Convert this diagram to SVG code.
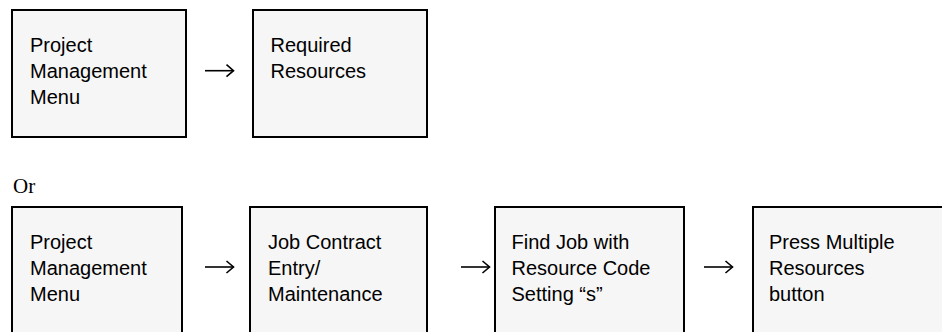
<svg xmlns="http://www.w3.org/2000/svg" width="942" height="332" viewBox="0 0 942 332">
<style>
.box{fill:#f6f6f6;stroke:#000;stroke-width:2}
.t{font-family:"Liberation Sans",Arial,sans-serif;font-size:20px;fill:#000}
.or{font-family:"Liberation Serif","Times New Roman",serif;font-size:21px;fill:#000}
.c{fill:none;stroke:#000;stroke-width:1.6}
</style>
<defs>
<marker id="ah" markerUnits="userSpaceOnUse" markerWidth="12" markerHeight="14" refX="9" refY="7" orient="auto">
<path d="M2,1 L9,7 L2,13" fill="none" stroke="#000" stroke-width="1.6"/>
</marker>
</defs>
<rect width="942" height="332" fill="#fff"/>
<g id="n1">
<rect class="box" x="12" y="10" width="174" height="127"/>
<text class="t" x="30" y="52">Project</text>
<text class="t" x="30" y="77.8">Management</text>
<text class="t" x="30" y="103.6">Menu</text>
</g>
<g id="n2">
<rect class="box" x="253" y="10" width="174" height="127"/>
<text class="t" x="270.5" y="52">Required</text>
<text class="t" x="270.5" y="77.8">Resources</text>
</g>
<text class="or" x="13" y="193">Or</text>
<g id="n3">
<rect class="box" x="12" y="207" width="170" height="130"/>
<text class="t" x="30" y="249">Project</text>
<text class="t" x="30" y="274.8">Management</text>
<text class="t" x="30" y="300.6">Menu</text>
</g>
<g id="n4">
<rect class="box" x="250" y="207" width="177" height="130"/>
<text class="t" x="268" y="249">Job Contract</text>
<text class="t" x="268" y="274.8">Entry/</text>
<text class="t" x="268" y="300.6">Maintenance</text>
</g>
<g id="n5">
<rect class="box" x="495" y="207" width="189" height="130"/>
<text class="t" x="511.5" y="249">Find Job with</text>
<text class="t" x="511.5" y="274.8">Resource Code</text>
<text class="t" x="511.5" y="300.6">Setting “s”</text>
</g>
<g id="n6">
<rect class="box" x="753" y="207" width="200" height="130"/>
<text class="t" x="769" y="249">Press Multiple</text>
<text class="t" x="769" y="274.8">Resources</text>
<text class="t" x="769" y="300.6">button</text>
</g>
<g id="connectors">
<path class="c" d="M205,70.7 H233.5" marker-end="url(#ah)"/>
<path class="c" d="M205,267 H233.5" marker-end="url(#ah)"/>
<path class="c" d="M461,267 H489.5" marker-end="url(#ah)"/>
<path class="c" d="M704,267 H732.5" marker-end="url(#ah)"/>
</g>
</svg>
